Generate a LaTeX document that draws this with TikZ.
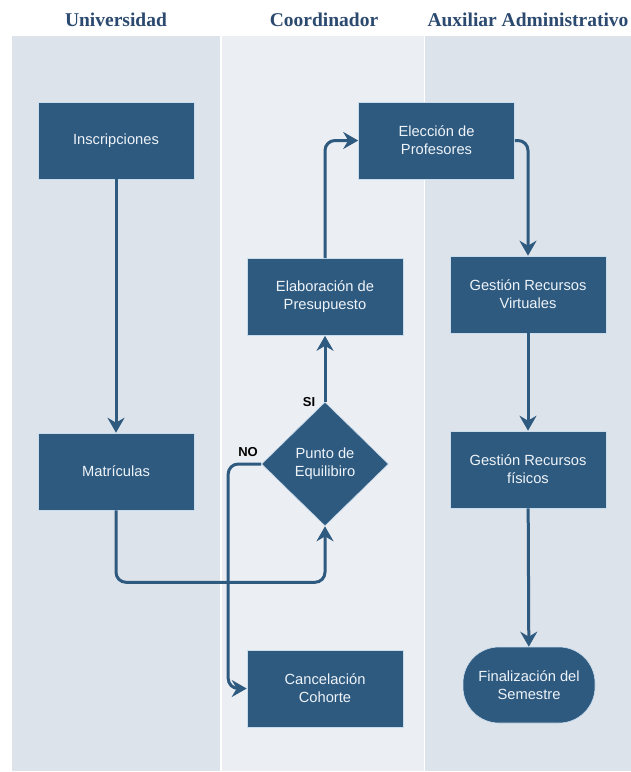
\documentclass[tikz,border=0pt]{standalone}
\usepackage{fontspec}
\setmainfont{Liberation Sans}
\newfontfamily\titlefont{Liberation Serif}
\usetikzlibrary{shapes.geometric,arrows.meta}
\definecolor{nodeblue}{HTML}{2E5A80}
\definecolor{nodeline}{HTML}{C9DCEC}
\definecolor{lanedark}{HTML}{DCE3EA}
\definecolor{lanelight}{HTML}{EBEEF2}
\definecolor{titleblue}{HTML}{2C4A70}
\definecolor{edgeblue}{HTML}{2E5A80}
\definecolor{nodetext}{HTML}{EEF3F8}
\begin{document}
\begin{tikzpicture}[x=1pt,y=-1pt,
  box/.style={rectangle, fill=nodeblue, draw=nodeline, line width=0.6pt,
    minimum width=156pt, minimum height=77pt, text=nodetext, align=center,
    font=\fontsize{14.7}{18}\selectfont, inner sep=0pt},
  decision/.style={diamond, fill=nodeblue, draw=nodeline, line width=0.6pt,
    minimum width=127pt, minimum height=124pt, text=nodetext, align=center,
    font=\fontsize{14.7}{18}\selectfont, inner sep=0pt},
  terminal/.style={rectangle, rounded corners=36pt, fill=nodeblue, draw=nodeline, line width=0.6pt,
    minimum width=132pt, minimum height=76pt, text=nodetext, align=center,
    font=\fontsize{14.7}{18}\selectfont, inner sep=0pt},
  flow/.style={draw=edgeblue, line width=3pt, rounded corners=10pt,
    -{Stealth[length=15pt,width=17pt,inset=5pt]}},
  lanetitle/.style={text=titleblue, font=\titlefont\bfseries\fontsize{19.5}{22}\selectfont},
  edgelabel/.style={font=\bfseries\fontsize{13}{15}\selectfont, text=black}
]
\fill[white] (0,0) rectangle (631,772);
\useasboundingbox (0,0) rectangle (631,772);
% lanes
\fill[lanedark] (12,36) rectangle (220,771);
\fill[lanelight] (221.5,36) rectangle (423.5,771);
\fill[lanedark] (425,36) rectangle (631,771);
% titles
\node[lanetitle] (t1) at (116,20) {Universidad};
\node[lanetitle] (t2) at (324,20) {Coordinador};
\node[lanetitle] (t3) at (528,20) {Auxiliar Administrativo};
% nodes
\node[box] (insc) at (116,140.5) {Inscripciones};
\node[box] (matr) at (116,471.5) {Matrículas};
\node[box] (pres) at (325,297) {Elaboración de\\Presupuesto};
\node[box] (elec) at (436.5,140.5) {Elección de\\Profesores};
\node[decision] (pe) at (325,464) {Punto de\\Equilibiro};
\node[box] (canc) at (325,688.5) {Cancelación\\Cohorte};
\node[box] (virt) at (528,294.5) {Gestión Recursos\\Virtuales};
\node[box] (fisi) at (528,469.5) {Gestión Recursos\\físicos};
\node[terminal] (fin) at (529,685) {Finalización del\\Semestre};
% connectors
\draw[flow] (insc) -- (matr);
\draw[flow] (matr.south) -- ++(0,72) -| (pe.south);
\draw[flow] (pe.north) -- (pres.south);
\draw[flow] (pres.north) |- (elec.west);
\draw[flow] (elec.east) -| (virt.north);
\draw[flow] (virt) -- (fisi);
\draw[flow] (fisi) -- (fin);
\draw[flow] (pe.west) -- ++(-33,0) |- (canc.west);
% labels
\node[edgelabel] (si) at (309,402) {SI};
\node[edgelabel] (no) at (248,452) {NO};
\end{tikzpicture}
\end{document}
